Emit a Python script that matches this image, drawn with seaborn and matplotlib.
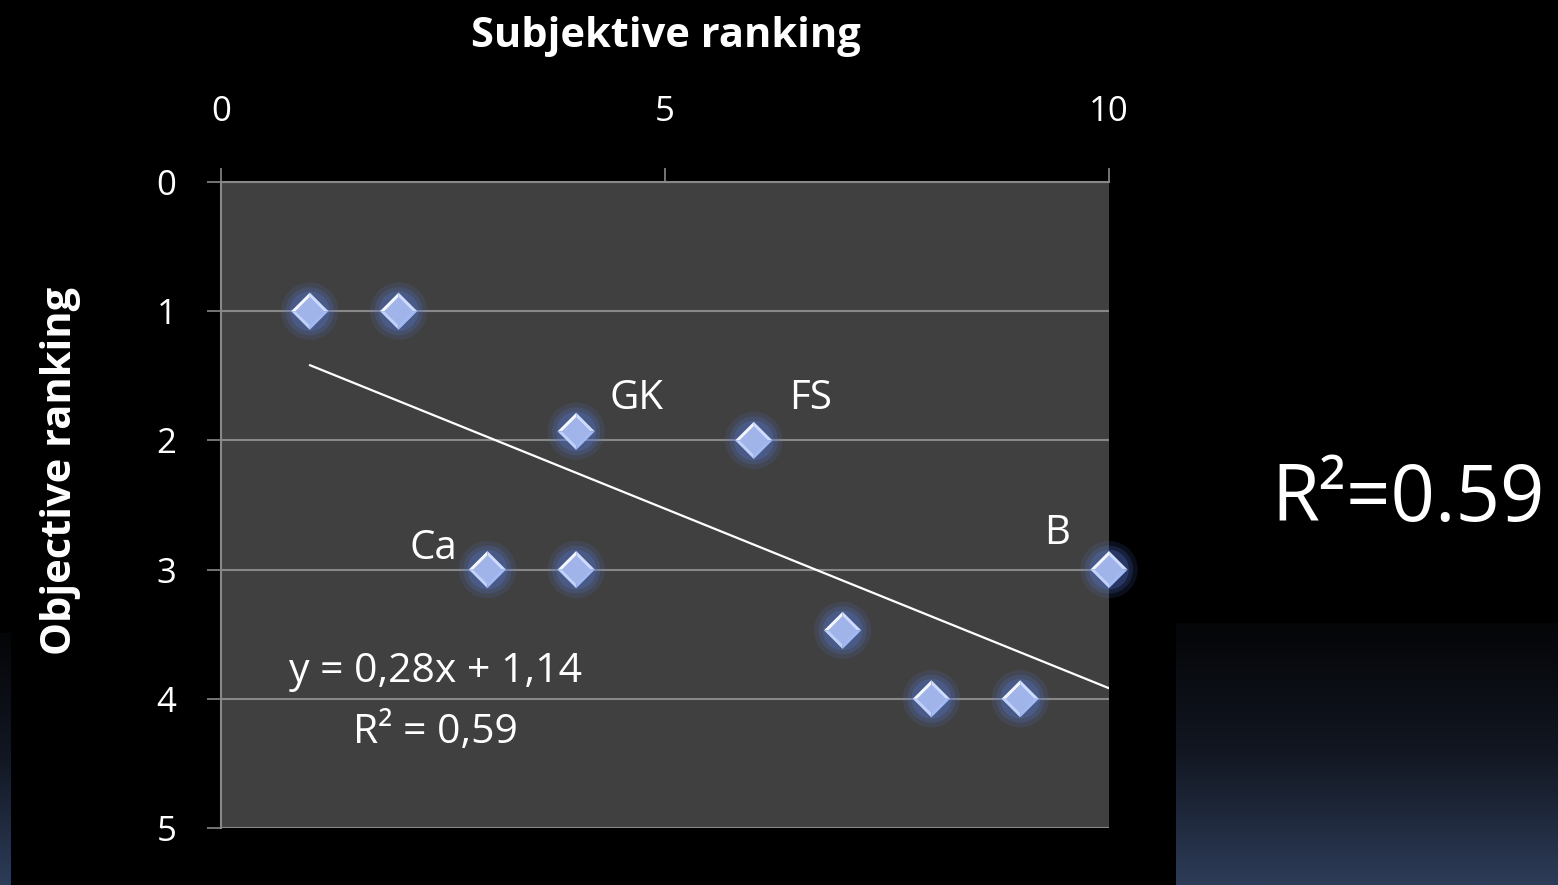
import numpy as np
import pandas as pd
import matplotlib
matplotlib.use("Agg")
import matplotlib.pyplot as plt
from matplotlib.colors import LinearSegmentedColormap
import seaborn as sns

# Rankings per item
subjective = [1, 2, 4, 6, 3, 4, 7, 8, 9, 10]
objective = [1, 1, 1.93, 2, 3, 3, 3.47, 4, 4, 3]
names = ["", "", "GK", "FS", "Ca", "", "", "", "", "B"]

x_ticks = [0, 5, 10]
y_ticks = [0, 1, 2, 3, 4, 5]
x_title = "Subjektive ranking"
y_title = "Objective ranking"

df = pd.DataFrame({"subj": subjective, "obj": objective, "name": names})

sns.set_style("dark")
plt.rcParams["font.family"] = ["Open Sans", "DejaVu Sans"]

W, H = 1558, 885
fig = plt.figure(figsize=(W / 100, H / 100), dpi=100, facecolor="black")

# soft navy gradients at the lower edges of the slide (dark on top, navy below)
cmap_bg = LinearSegmentedColormap.from_list("bg", ["#040507", "#121722", "#2d3c58"])
grad = np.linspace(0, 1, 256).reshape(-1, 1)
for rect in ([0, 0, 11 / W, 252 / H], [1176 / W, 0, (W - 1176) / W, 262 / H]):
    bax = fig.add_axes(rect)
    bax.imshow(grad, aspect="auto", cmap=cmap_bg, origin="upper")
    bax.set_axis_off()

ax = fig.add_axes([221 / W, 57 / H, 888 / W, 646 / H])
ax.set_facecolor("#404040")

grid_col = "#888888"
ax.set_xlim(0, 10)
ax.set_ylim(5, 0)
ax.set_xticks(x_ticks)
ax.set_yticks(y_ticks)
ax.yaxis.grid(True, color=grid_col, linewidth=1.5)
ax.xaxis.grid(False)
ax.set_axisbelow(True)
for side in ("right", "bottom"):
    ax.spines[side].set_visible(False)
for side in ("top", "left"):
    ax.spines[side].set_visible(True)
    ax.spines[side].set_color(grid_col)
    ax.spines[side].set_linewidth(1.5)

ax.xaxis.tick_top()
ax.tick_params(axis="x", top=True, bottom=False, labeltop=True, labelbottom=False,
               direction="out", length=10, width=1.2, color=grid_col,
               labelcolor="white", labelsize=25, pad=28)
ax.tick_params(axis="y", left=True, direction="out", length=10, width=1.2,
               color=grid_col, labelcolor="white", labelsize=25, pad=22)

# trend line (least squares)
sns.regplot(data=df, x="subj", y="obj", scatter=False, ci=None, truncate=True,
            ax=ax, line_kws={"color": "white", "linewidth": 1.6, "zorder": 3})

# glowing halo behind each marker
for s, a in [(1700, 0.12), (1200, 0.17), (820, 0.24)]:
    sns.scatterplot(data=df, x="subj", y="obj", s=s, color="#5a7de0", alpha=a,
                    edgecolor="none", marker="o", ax=ax, zorder=4, legend=False,
                    clip_on=False)

# bevelled diamond markers built from four facets and an inner face
facets = [
    ([(0, 0), (-1, 0), (0, 1)], "#f4f7ff"),
    ([(0, 0), (0, 1), (1, 0)], "#cfdcff"),
    ([(0, 0), (1, 0), (0, -1)], "#a2baf4"),
    ([(0, 0), (0, -1), (-1, 0)], "#c0d2fb"),
]
dsize = 720
for verts, col in facets:
    sns.scatterplot(data=df, x="subj", y="obj", s=dsize, color=col, marker=verts,
                    edgecolor="none", linewidth=0, ax=ax, zorder=5, legend=False,
                    clip_on=False)
sns.scatterplot(data=df, x="subj", y="obj", s=dsize * 0.30, color="#a0b4ea",
                marker="D", edgecolor="none", linewidth=0, ax=ax, zorder=6,
                legend=False, clip_on=False)

ax.set_xlabel(x_title, color="white", fontsize=30, fontweight="bold")
ax.xaxis.set_label_position("top")
ax.xaxis.set_label_coords(0.501, 1.226)
ax.xaxis.label.set_va("center")
ax.set_ylabel(y_title, color="white", fontsize=30, fontweight="bold")
ax.yaxis.set_label_coords(-0.181, 0.553)
ax.yaxis.label.set_va("center")
ax.yaxis.label.set_ha("center")

# point names
offsets = {"GK": (60, 33), "FS": (57, 42), "Ca": (-54, 21), "B": (-52, 36)}
for xv, yv, nm in zip(subjective, objective, names):
    if nm:
        ax.annotate(nm, (xv, yv), xytext=offsets[nm], textcoords="offset pixels",
                    ha="center", va="center", color="white", fontsize=29, zorder=7)

# regression equation
slope, intercept = np.polyfit(subjective, objective, 1)
r2 = np.corrcoef(subjective, objective)[0, 1] ** 2
fmt = lambda v: f"{v:.2f}".replace(".", ",")
ax.text(2.41, 3.79, f"y = {fmt(slope)}x + {fmt(intercept)}", ha="center", va="center",
        color="white", fontsize=29.5, zorder=7)
ax.text(2.41, 4.26, f"R² = {fmt(r2)}", ha="center", va="center",
        color="white", fontsize=29.5, zorder=7)

fig.text(1408 / W, 1 - 500 / H, f"R²={r2:.2f}", ha="center", va="center",
         color="white", fontsize=56)

fig.savefig("out.png", dpi=100, facecolor="black")
